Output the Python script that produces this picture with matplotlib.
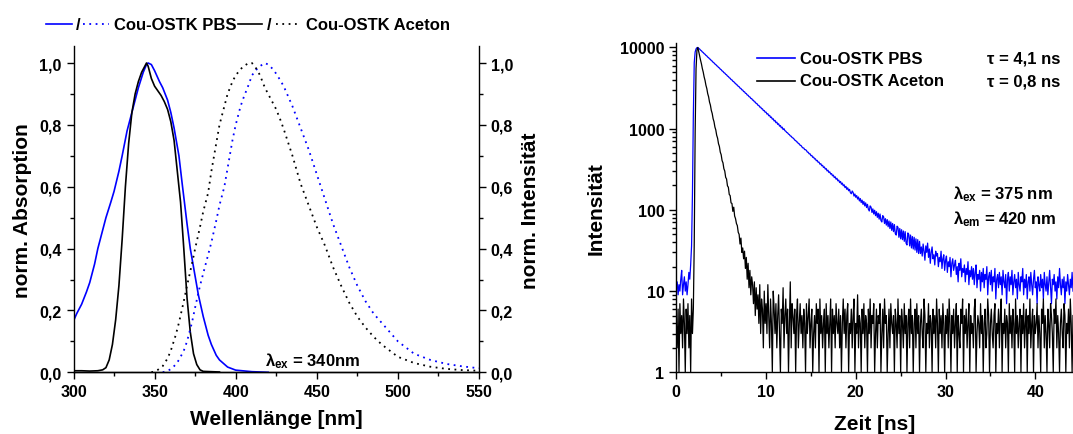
import numpy as np
import matplotlib
matplotlib.use("Agg")
import matplotlib.pyplot as plt
from matplotlib.lines import Line2D
from matplotlib.ticker import MultipleLocator, FixedLocator, NullFormatter, LogLocator

plt.rcParams['font.family'] = ['Liberation Sans', 'DejaVu Sans']
plt.rcParams['font.weight'] = 'bold'
plt.rcParams['mathtext.fontset'] = 'custom'
plt.rcParams['mathtext.rm'] = 'Liberation Sans:bold'
plt.rcParams['mathtext.it'] = 'Liberation Sans:bold'
plt.rcParams['mathtext.bf'] = 'Liberation Sans:bold'

# ---------------- data: steady-state spectra ----------------
abs_pbs_wl = [300, 302, 305, 308, 310, 313, 315, 318, 320, 323, 325, 328, 330, 333, 335, 338, 340, 343,
              345, 346, 348, 350, 353, 355, 358, 360, 362, 365, 367, 370, 372, 375, 377, 380, 383, 385,
              388, 390, 395, 400, 410, 420]
abs_pbs = [0.166, 0.19, 0.22, 0.26, 0.29, 0.35, 0.40, 0.46, 0.50, 0.55, 0.585, 0.65, 0.70, 0.78, 0.82,
           0.88, 0.92, 0.97, 0.995, 1.0, 0.995, 0.975, 0.94, 0.92, 0.88, 0.84, 0.79, 0.70, 0.61, 0.48,
           0.40, 0.31, 0.25, 0.18, 0.12, 0.09, 0.055, 0.04, 0.017, 0.007, 0.002, 0.0]

abs_ace_wl = [300, 305, 310, 315, 318, 320, 322, 324, 326, 328, 330, 332, 334, 336, 338, 340, 342, 344,
              345, 346, 348, 350, 352, 354, 356, 358, 360, 362, 364, 366, 368, 370, 372, 374, 376, 378,
              380, 385, 390]
abs_ace = [0.005, 0.005, 0.004, 0.005, 0.008, 0.015, 0.04, 0.09, 0.17, 0.28, 0.43, 0.60, 0.74, 0.84,
           0.90, 0.94, 0.97, 0.99, 1.0, 0.99, 0.95, 0.925, 0.91, 0.895, 0.875, 0.85, 0.81, 0.75, 0.65,
           0.55, 0.40, 0.24, 0.13, 0.06, 0.025, 0.008, 0.003, 0.002, 0.001]

em_pbs_wl = [355, 358, 360, 363, 365, 368, 370, 373, 375, 378, 380, 383, 385, 388, 390, 393, 395, 398,
             400, 403, 405, 408, 410, 413, 415, 418, 420, 423, 425, 428, 430, 435, 440, 445, 450, 455,
             460, 465, 470, 475, 480, 485, 490, 495, 500, 510, 520, 530, 540, 550]
em_pbs = [0.0, 0.005, 0.01, 0.025, 0.04, 0.07, 0.10, 0.16, 0.21, 0.28, 0.32, 0.38, 0.42, 0.49, 0.54,
          0.60, 0.66, 0.75, 0.80, 0.86, 0.89, 0.93, 0.96, 0.98, 0.99, 1.0, 0.995, 0.98, 0.965, 0.94,
          0.92, 0.86, 0.79, 0.72, 0.64, 0.56, 0.48, 0.41, 0.34, 0.28, 0.23, 0.19, 0.16, 0.13, 0.10,
          0.06, 0.04, 0.027, 0.019, 0.013]

em_ace_wl = [348, 350, 352, 355, 358, 360, 363, 365, 368, 370, 373, 375, 378, 380, 383, 385, 388, 390,
             393, 395, 398, 400, 403, 405, 408, 410, 413, 415, 418, 420, 423, 425, 428, 430, 435, 440,
             445, 450, 455, 460, 465, 470, 475, 480, 485, 490, 495, 500, 510, 520, 530, 540, 550]
em_ace = [0.0, 0.003, 0.008, 0.02, 0.045, 0.07, 0.12, 0.16, 0.23, 0.28, 0.35, 0.40, 0.47, 0.52, 0.58,
          0.65, 0.74, 0.80, 0.86, 0.90, 0.94, 0.96, 0.98, 0.99, 1.0, 1.0, 0.98, 0.96, 0.92, 0.90, 0.87,
          0.85, 0.81, 0.78, 0.70, 0.61, 0.54, 0.47, 0.41, 0.34, 0.28, 0.225, 0.18, 0.145, 0.115, 0.09,
          0.07, 0.05, 0.03, 0.018, 0.011, 0.007, 0.005]

# ---------------- data: TCSPC decays (0.1 ns channels) ----------------
channel_ns = 0.1
decay_pbs = [
    11, 13, 9, 12, 10, 14, 18, 9, 12, 15, 10, 13, 9, 12, 17, 14,
    21, 36, 160, 1500, 6500, 8800, 9600, 9950,
    10000,
    9740, 9560, 9270, 9110, 8820, 8670,
    8400, 8260, 8000, 7870, 7610, 7490, 7250, 7140, 6900, 6800,
    6570, 6470, 6260, 6170, 5960, 5880, 5680, 5600, 5410, 5330,
    5150, 5080, 4900, 4840, 4680, 4610, 4450, 4390, 4240, 4180,
    4030, 3990, 3840, 3800, 3660, 3620, 3480, 3450, 3320, 3290,
    3160, 3130, 3010, 2990, 2860, 2850, 2730, 2710, 2600, 2580,
    2480, 2460, 2360, 2350, 2250, 2240, 2140, 2130, 2040, 2030,
    1940, 1935, 1845, 1845, 1760, 1760, 1670, 1675, 1595, 1600,
    1515, 1530, 1445, 1460, 1375, 1390, 1310, 1325, 1245, 1265,
    1185, 1205, 1130, 1150, 1075, 1095, 1025, 1045, 975, 1000,
    945, 931, 899, 889, 858, 846, 815, 808, 779, 769,
    751, 722, 716, 689, 684, 655, 651, 624, 621, 596,
    580, 579, 553, 551, 540, 515, 513, 490, 491, 466,
    468, 444, 447, 424, 426, 403, 407, 386, 388, 366,
    371, 350, 354, 333, 338, 318, 323, 302, 308, 289,
    294, 276, 280, 263, 268, 250, 256, 239, 245, 228,
    233, 217, 224, 207, 214, 198, 204, 188, 195, 179,
    187, 172, 179, 163, 158, 171, 164, 148, 157, 143,
    150, 136, 144, 129, 138, 123, 132, 117, 127, 112,
    122, 107, 117, 102, 97, 112, 108, 93, 103, 89,
    99, 85, 95, 81, 91, 77, 89, 74, 71, 85,
    82, 68, 78, 65, 76, 62, 73, 59, 71, 56,
    68, 54, 66, 51, 49, 63, 61, 46, 59, 44,
    57, 43, 55, 41, 54, 39, 37, 52, 50, 36,
    49, 34, 47, 33, 46, 32, 44, 30, 43, 29,
    41, 29, 35, 27, 38, 31, 24, 36, 30, 39,
    26, 33, 22, 30, 35, 25, 28, 21, 31, 27,
    29, 20, 26, 23, 31, 19, 25, 28, 18, 24,
    27, 17, 23, 20, 26, 15, 22, 25, 18, 21,
    24, 16, 20, 13, 22, 18, 25, 15, 19, 17,
    21, 13, 19, 16, 23, 12, 18, 15, 20, 14,
    19, 12, 17, 21, 11, 16, 14, 18, 10, 17,
    13, 19, 11, 16, 14, 20, 9, 15, 17, 12,
    18, 10, 15, 13, 19, 8, 14, 16, 11, 17,
    12, 15, 9, 18, 13, 11, 16, 7, 14, 17,
    10, 15, 12, 18, 9, 13, 16, 11, 14, 8,
    17, 12, 10, 15, 13, 19, 9, 14, 11, 16,
    8, 13, 15, 10, 17, 12, 9, 14, 18, 11,
    13, 7, 15, 12, 10, 16, 11, 14, 8, 17,
    12, 10, 15, 9, 13, 18, 11, 7, 14, 12,
    16, 10, 13, 8, 15, 11, 19, 12, 9, 14,
    11, 15, 7, 13, 10, 16, 12, 9, 14, 11, 17, 10]

decay_ace = [
    4, 2, 6, 1, 7, 3, 5, 2, 8, 4, 1, 6, 3, 7, 2, 5, 1, 8, 3, 6,
    40, 900, 5500, 9200,
    10000,
    8850, 7950, 6990, 6290, 5510, 4980,
    4350, 3940, 3430, 3120, 2700, 2470, 2130, 1950, 1680, 1540,
    1330, 1220, 1050, 965, 830, 765, 655, 605, 515, 478,
    405, 380, 322, 301, 252, 240, 198, 190, 155, 150,
    122, 120, 96, 108, 84, 78, 68, 64, 53, 50,
    38, 45, 30, 34, 25, 31, 19, 26, 14, 22,
    11, 18, 9, 15, 12, 7, 13, 5, 11, 6,
    9, 4, 12, 3, 8, 6, 2, 10, 4, 7,
    3, 12, 5, 2, 8, 4, 1, 10, 6, 3,
    7, 2, 5, 9, 3, 1, 6, 4, 11, 2,
    5, 8, 3, 6, 1, 4, 13, 2, 7, 5,
    3, 6, 1, 5, 8, 2, 4, 7, 3, 5,
    2, 6, 4, 1, 7, 3, 5, 8, 2, 4,
    6, 1, 3, 5, 2, 7, 4, 6, 1, 8,
    3, 5, 2, 4, 6, 1, 7, 3, 5, 2,
    4, 8, 1, 6, 3, 5, 2, 7, 4, 3,
    6, 2, 5, 1, 4, 8, 3, 6, 2, 5,
    7, 1, 4, 3, 6, 2, 5, 8, 1, 4,
    3, 9, 2, 5, 4, 1, 6, 3, 7, 2,
    5, 4, 1, 6, 3, 8, 2, 5, 4, 7,
    1, 3, 6, 2, 5, 4, 7, 1, 3, 6,
    2, 8, 4, 5, 1, 3, 6, 2, 7, 4,
    3, 5, 1, 6, 4, 2, 8, 3, 5, 1,
    6, 4, 2, 7, 3, 5, 1, 4, 6, 2,
    8, 3, 5, 1, 4, 6, 2, 7, 3, 5,
    1, 4, 6, 3, 2, 8, 5, 1, 4, 3,
    7, 2, 5, 4, 1, 6, 3, 5, 2, 8,
    4, 1, 6, 3, 5, 2, 7, 4, 1, 5,
    3, 6, 2, 8, 4, 1, 5, 3, 6, 2,
    4, 7, 1, 5, 3, 2, 6, 4, 8, 1,
    5, 3, 6, 2, 4, 7, 1, 5, 3, 4,
    2, 6, 8, 1, 3, 5, 4, 2, 7, 3,
    5, 1, 4, 6, 2, 3, 8, 5, 1, 4,
    6, 3, 2, 5, 7, 1, 4, 3, 6, 2,
    5, 8, 1, 4, 3, 6, 2, 5, 4, 1,
    7, 3, 5, 2, 6, 4, 1, 8, 3, 5,
    2, 4, 6, 1, 5, 3, 7, 2, 4, 6,
    1, 5, 3, 8, 2, 4, 6, 1, 5, 3,
    4, 7, 2, 5, 3, 1, 6, 4, 8, 2,
    5, 3, 1, 6, 4, 2, 7, 5, 3, 1,
    6, 4, 8, 2, 5, 3, 1, 4, 6, 3,
    2, 7, 5, 1, 4, 3, 6, 2, 8, 4, 1, 5]

labels = ["Cou-OSTK PBS", "Cou-OSTK Aceton"]
taus = ["\u03c4 = 4,1 ns", "\u03c4 = 0,8 ns"]

BLUE = "#0000FF"
BLACK = "#000000"
TICK_FS = 11.5
LABEL_FS = 15
TEXT_FS = 12
W, H = 1073, 435

fig = plt.figure(figsize=(W / 100, H / 100), dpi=100)

def fx(px):
    return px / W

def fy(py):
    return (H - py) / H

# ---------------- left panel ----------------
ax1 = fig.add_axes([fx(73.5), fy(373.3), fx(479) - fx(73.5), fy(47.3) - fy(373.3)])
ax1.plot(abs_pbs_wl, abs_pbs, color=BLUE, lw=1.2)
ax1.plot(abs_ace_wl, abs_ace, color=BLACK, lw=1.2)
ax1.plot(em_pbs_wl, em_pbs, color=BLUE, lw=1.3, ls=(0, (1, 2.5)))
ax1.plot(em_ace_wl, em_ace, color=BLACK, lw=1.3, ls=(0, (1, 2.5)))
ax1.set_xlim(300, 550)
ax1.set_ylim(0, 1.054)
ax1.xaxis.set_major_locator(MultipleLocator(50))
ax1.xaxis.set_minor_locator(MultipleLocator(25))
ax1.yaxis.set_major_locator(FixedLocator([0, 0.2, 0.4, 0.6, 0.8, 1.0]))
ax1.yaxis.set_minor_locator(FixedLocator([0.1, 0.3, 0.5, 0.7, 0.9]))
fmt = lambda v, p: ("%.1f" % v).replace(".", ",")
ax1.yaxis.set_major_formatter(plt.FuncFormatter(fmt))
ax1.spines['top'].set_visible(False)
ax1.spines['right'].set_visible(False)
ax1.set_xlabel("Wellenlänge [nm]", fontsize=LABEL_FS, fontweight='bold')
ax1.set_ylabel("norm. Absorption", fontsize=LABEL_FS, fontweight='bold')
ax1.xaxis.set_label_coords(0.5, -0.113)
ax1.yaxis.set_label_coords(-0.102, 0.5)

ax2 = ax1.twinx()
ax2.set_ylim(0, 1.054)
ax2.yaxis.set_major_locator(FixedLocator([0, 0.2, 0.4, 0.6, 0.8, 1.0]))
ax2.yaxis.set_minor_locator(FixedLocator([0.1, 0.3, 0.5, 0.7, 0.9]))
ax2.yaxis.set_major_formatter(plt.FuncFormatter(fmt))
ax2.spines['top'].set_visible(False)
ax2.spines['left'].set_visible(False)
ax2.set_ylabel("norm. Intensität", fontsize=LABEL_FS, fontweight='bold')
ax2.yaxis.set_label_coords(1.103, 0.5)

fig.text(fx(265), fy(361), r"$\lambda_{ex}$ = 340nm", fontsize=TEXT_FS,
         fontweight='bold', va='center', ha='left')

# ---------------- right panel ----------------
ax3 = fig.add_axes([fx(676.3), fy(373.3), 1 - fx(676.3), fy(44) - fy(373.3)])
t_pbs = np.arange(len(decay_pbs)) * channel_ns
t_ace = np.arange(len(decay_ace)) * channel_ns
ax3.plot(t_pbs, decay_pbs, color=BLUE, lw=0.9)
ax3.plot(t_ace, decay_ace, color=BLACK, lw=0.9)
ax3.set_yscale('log')
ax3.set_xlim(0, 44.2)
ax3.set_ylim(1, 11360)
ax3.xaxis.set_major_locator(MultipleLocator(10))
ax3.xaxis.set_minor_locator(MultipleLocator(5))
ax3.yaxis.set_major_locator(FixedLocator([1, 10, 100, 1000, 10000]))
ax3.yaxis.set_major_formatter(plt.FuncFormatter(lambda v, p: "%d" % round(v)))
ax3.yaxis.set_minor_locator(LogLocator(base=10, subs=np.arange(2, 10)))
ax3.yaxis.set_minor_formatter(NullFormatter())
ax3.spines['top'].set_visible(False)
ax3.spines['right'].set_visible(False)
ax3.set_xlabel("Zeit [ns]", fontsize=LABEL_FS, fontweight='bold')
ax3.set_ylabel("Intensität", fontsize=LABEL_FS, fontweight='bold')
ax3.xaxis.set_label_coords(0.5, -0.127)
ax3.yaxis.set_label_coords(-0.177, 0.5)

for ax in (ax1, ax2, ax3):
    ax.tick_params(which='major', direction='out', length=5, width=1.0, labelsize=TICK_FS)
    ax.tick_params(which='minor', direction='out', length=3, width=1.0)
    for lab in ax.get_xticklabels() + ax.get_yticklabels():
        lab.set_fontweight('bold')
    for s in ax.spines.values():
        s.set_linewidth(1.0)

# right legend
for i, (col, lab, tau) in enumerate(zip([BLUE, BLACK], labels, taus)):
    yy = [59, 81.7][i]
    fig.add_artist(Line2D([fx(757), fx(795)], [fy(yy), fy(yy)], color=col, lw=1.2))
    fig.text(fx(800), fy(yy), lab, fontsize=TEXT_FS, fontweight='bold', va='center', ha='left')
    fig.text(fx(987), fy(yy), tau, fontsize=TEXT_FS, fontweight='bold', va='center', ha='left')

fig.text(fx(952.7), fy(194), r"$\lambda_{ex}$ = 375 nm", fontsize=TEXT_FS, fontweight='bold',
         va='center', ha='left')
fig.text(fx(952.7), fy(219), r"$\lambda_{em}$ = 420 nm", fontsize=TEXT_FS, fontweight='bold',
         va='center', ha='left')

# top-left legend
ly = fy(25)
fig.add_artist(Line2D([fx(46), fx(72)], [ly, ly], color=BLUE, lw=1.2))
fig.text(fx(75.5), ly, "/", fontsize=TEXT_FS, fontweight='bold', va='center', ha='left')
fig.add_artist(Line2D([fx(83), fx(109)], [ly, ly], color=BLUE, lw=1.3, ls=(0, (1, 2.5))))
fig.text(fx(114), ly, labels[0], fontsize=TEXT_FS, fontweight='bold', va='center', ha='left')
fig.add_artist(Line2D([fx(238), fx(262)], [ly, ly], color=BLACK, lw=1.2))
fig.text(fx(266.5), ly, "/", fontsize=TEXT_FS, fontweight='bold', va='center', ha='left')
fig.add_artist(Line2D([fx(276), fx(301)], [ly, ly], color=BLACK, lw=1.3, ls=(0, (1, 2.5))))
fig.text(fx(306), ly, labels[1], fontsize=TEXT_FS, fontweight='bold', va='center', ha='left')

fig.savefig("out.png", dpi=100)
